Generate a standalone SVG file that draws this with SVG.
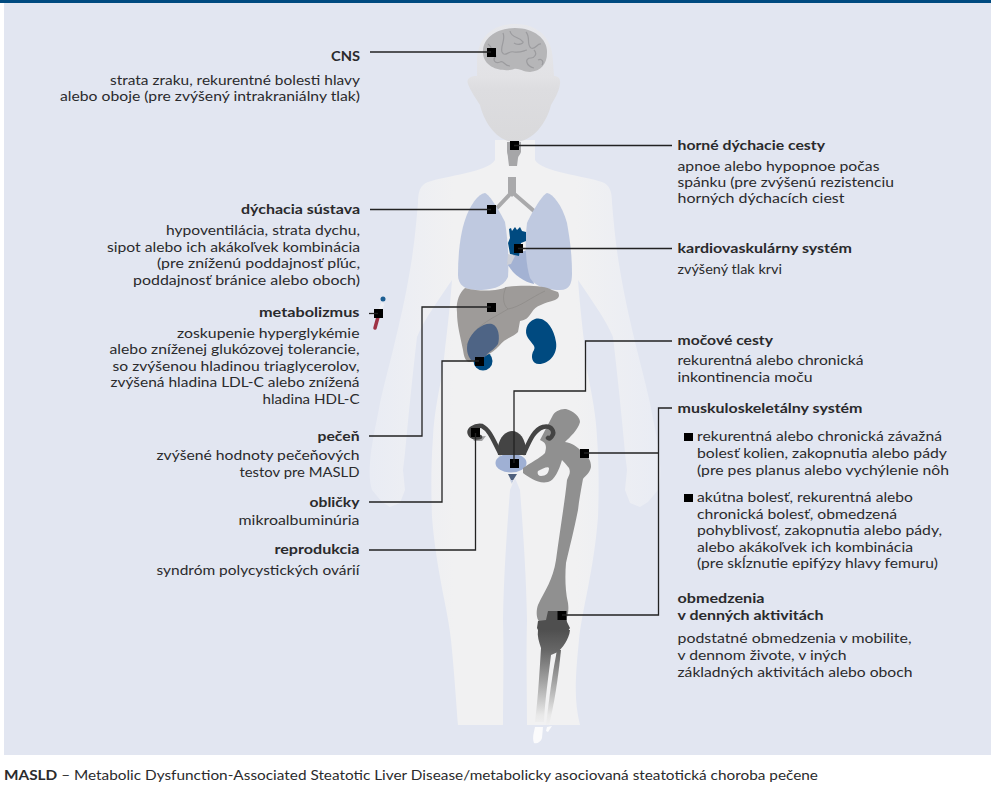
<svg xmlns="http://www.w3.org/2000/svg" width="991" height="800" viewBox="0 0 991 800">
<style>
text{font-family:"Lato","Noto Sans","Liberation Sans",sans-serif;font-size:13.8px;fill:#2a2a2c}
.b{font-weight:700}
.e{text-anchor:end}
.m{fill:#000}
.c{fill:none;stroke:#222;stroke-width:1.3}
.w{fill:none;stroke:#9b9b9e;stroke-width:1.2}
</style>
<defs>
<linearGradient id="skin" gradientUnits="userSpaceOnUse" x1="370" y1="0" x2="660" y2="0"><stop offset="0" stop-color="#e9ecf4"/><stop offset=".29" stop-color="#f1f1f2"/><stop offset=".71" stop-color="#f1f1f2"/><stop offset="1" stop-color="#e9ecf4"/></linearGradient>
<linearGradient id="head" x1="0" y1="0" x2="0" y2="1"><stop offset="0" stop-color="#e7e8ec"/><stop offset=".45" stop-color="#e2e2e5"/><stop offset=".55" stop-color="#dddde0"/><stop offset="1" stop-color="#d9d9db"/></linearGradient>
<linearGradient id="shin" gradientUnits="userSpaceOnUse" x1="0" y1="625" x2="0" y2="725"><stop offset="0" stop-color="#4a4a4a"/><stop offset=".25" stop-color="#666"/><stop offset=".55" stop-color="#a0a0a0"/><stop offset=".9" stop-color="#e8e8e8"/><stop offset="1" stop-color="#f0f0f1"/></linearGradient>
</defs>
<rect width="991" height="800" fill="#fff"/>
<rect x="4" y="3" width="987" height="752" fill="#e2e6f1"/>
<rect width="991" height="3" fill="#004a80"/>
<g id="body">
<path fill="url(#skin)" d="M495,140 L495,160 C488,172 445,176 428,182 C420,185 418,192 418,203 C416,225 414,248 410,270 C405,300 399,325 393,350 C388,370 384,385 380,403 C376,425 371,445 370,463 C369,475 370,484 372,490 L382,502 L390,507 L400,503 L405,490 L403,470 L405,453 C408,420 412,380 417,337 C425,318 440,298 452,280 C449,320 445,345 443,370 C438,395 434,415 433,437 C431,465 431,490 432,517 C436,570 448,610 451,640 C455,680 456,700 458,725 L503,725 C503,690 504,660 503,620 C504,570 507,530 510,490 L515,478 L520,490 C523,530 526,570 527,620 C526,660 527,690 527,725 L580,725 C574,700 575,680 579,640 C582,610 594,570 598,517 C599,490 599,465 597,437 C596,415 592,395 587,370 C585,345 581,320 578,280 C590,298 605,318 613,337 C618,380 622,420 625,453 L627,470 L625,490 L630,503 L640,507 L648,502 L658,490 C660,484 661,475 660,463 C659,445 654,425 650,403 C646,385 642,370 637,350 C631,325 625,300 620,270 C616,248 614,225 612,203 C612,192 610,185 602,182 C585,176 542,172 535,160 L535,140 Z"/>
</g>
<g id="head-shape">
<path fill="url(#head)" d="M515,24 C490,24 477,40 477,62 L477,76 C470,76 466,79 468,84 C471,92 477,100 480,105 C484,122 497,142 515,142 C533,142 547,122 551,105 C554,100 559,92 560,84 C561,79 558,76 554,76 L553,62 C553,40 540,24 515,24 Z"/>
</g>
<g id="cns">
<path fill="#b6b6b8" d="M483,53 C482,38 497,28 515,28 C535,28 548,40 547,53 C547,64 541,71 530,72 C523,72 519,68 514,69 C506,72 484,70 483,53 Z"/>
<path class="w" d="M503,33 C506,40 500,46 502,52 C505,58 509,50 514,52 C520,53 523,51 527,50 M510,31 C511,38 520,37 522,41 C526,43 518,46 514,43 M526,32 C531,38 526,44 531,48 C536,50 537,43 541,44 M534,50 C538,54 534,58 531,58 C524,58 526,66 534,68 M488,44 C494,48 490,52 496,56 C492,60 495,64 500,62 C504,60 504,66 510,66 M538,60 C542,58 544,62 542,65"/>
<rect class="m" x="487" y="48" width="9" height="9"/>
<text class="b e" x="360" y="61" textLength="29" lengthAdjust="spacingAndGlyphs">CNS</text>
<text class="e" x="360" y="85" textLength="250" lengthAdjust="spacingAndGlyphs">strata zraku, rekurentné bolesti hlavy</text>
<text class="e" x="360" y="101" textLength="300" lengthAdjust="spacingAndGlyphs">alebo oboje (pre zvýšený intrakraniálny tlak)</text>
</g>
<g id="horne-dychacie-cesty">
<path fill="#a6a6a8" d="M507,142 L521,142 L521,152 C520,155 518,156 518,158 L517,166 L509,166 L508,158 C508,155 507,154 507,151 Z"/>
<rect class="m" x="510" y="141" width="9" height="9"/>
<text class="b" x="677.500" y="150" textLength="147.500" lengthAdjust="spacingAndGlyphs">horné dýchacie cesty</text>
<text x="677.500" y="171" textLength="202" lengthAdjust="spacingAndGlyphs">apnoe alebo hypopnoe počas</text>
<text x="677.500" y="187" textLength="216.500" lengthAdjust="spacingAndGlyphs">spánku (pre zvýšenú rezistenciu</text>
<text x="677.500" y="203" textLength="167" lengthAdjust="spacingAndGlyphs">horných dýchacích ciest</text>
</g>
<g id="dychacia-sustava">
<path fill="none" stroke="#a9a9ab" stroke-width="4" d="M512,192 L496,209 M512,192 L534,211"/>
<path fill="#a9a9ab" d="M508,177 L516,177 L516,193 L512,197 L508,193 Z"/>
<path fill="#bfc9e0" d="M485,193 C490,195 500,212 505,222 C508,240 509,262 508,277 C503,288 490,290 477,290 C465,290 458,285 458,275 C458,255 460,235 465,220 C470,205 478,194 485,193 Z"/>
<path fill="#a3b2d3" d="M507,263 L514,254 L527,250 L534,284 C524,282 512,274 507,263 Z"/>
<path fill="#cdd0d8" d="M508,254 L515,256 L511,264 L507,265 Z"/>
<path fill="#bfc9e0" d="M547,193 C542,195 532,212 527,223 C525,240 525,262 530,278 C536,288 550,290 560,290 C570,290 572,283 572,273 C572,255 570,240 567,223 C562,205 553,194 547,193 Z"/>
<rect class="m" x="487" y="205" width="9" height="9"/>
<text class="b e" x="360" y="214" textLength="119" lengthAdjust="spacingAndGlyphs">dýchacia sústava</text>
<text class="e" x="360" y="235" textLength="194" lengthAdjust="spacingAndGlyphs">hypoventilácia, strata dychu,</text>
<text class="e" x="360" y="252" textLength="253" lengthAdjust="spacingAndGlyphs">sipot alebo ich akákoľvek kombinácia</text>
<text class="e" x="360" y="268" textLength="203" lengthAdjust="spacingAndGlyphs">(pre zníženú poddajnosť pľúc,</text>
<text class="e" x="360" y="285" textLength="227" lengthAdjust="spacingAndGlyphs">poddajnosť bránice alebo oboch)</text>
</g>
<g id="kardiovaskularny-system">
<path fill="#004a80" d="M509,229 L511,228 L512,231 L515,227 L517,230 L520,227 L522,231 L526,232 L526,241 L521,243 L519,256 L510,254 L508,243 L510,238 Z"/>
<rect class="m" x="514" y="244" width="9" height="9"/>
<text class="b" x="677.500" y="253" textLength="174.500" lengthAdjust="spacingAndGlyphs">kardiovaskulárny systém</text>
<text x="677.500" y="274" textLength="104.500" lengthAdjust="spacingAndGlyphs">zvýšený tlak krvi</text>
</g>
<g id="metabolizmus">
<path fill="none" stroke="#eef0f5" stroke-width="3.500" d="M383,303 L378,315"/>
<path fill="none" stroke="#9e3245" stroke-width="3.500" stroke-linecap="round" d="M378,317 L375,328"/>
<circle cx="383" cy="299" r="2.500" fill="#1c5e93"/>
<rect class="m" x="374" y="309" width="9" height="9"/>
<text class="b e" x="359.500" y="317" textLength="100.500" lengthAdjust="spacingAndGlyphs">metabolizmus</text>
<text class="e" x="359.500" y="338" textLength="182.500" lengthAdjust="spacingAndGlyphs">zoskupenie hyperglykémie</text>
<text class="e" x="359.500" y="354" textLength="250" lengthAdjust="spacingAndGlyphs">alebo zníženej glukózovej tolerancie,</text>
<text class="e" x="359.500" y="370.500" textLength="247" lengthAdjust="spacingAndGlyphs">so zvýšenou hladinou triaglycerolov,</text>
<text class="e" x="359.500" y="387" textLength="249" lengthAdjust="spacingAndGlyphs">zvýšená hladina LDL-C alebo znížená</text>
<text class="e" x="359.500" y="403.500" textLength="97" lengthAdjust="spacingAndGlyphs">hladina HDL-C</text>
</g>
<g id="oblicky">
<circle cx="483" cy="361" r="9.500" fill="#004a80"/>
<path fill="#004a80" d="M535,319 C545,316 554,328 556,342 C558,354 549,364 539,364 C532,364 530,356 534,350 C536,346 532,344 528,338 C524,332 526,322 535,319 Z"/>
</g>
<g id="pecen">
<path fill="#9e9b99" d="M465,288 C480,292 500,291 506,287 C520,285 545,285 552,290 L558,292 C560,296 559,298 555,300 C545,303 535,306 532,312 C528,318 526,320 520,321 L518,332 C515,336 505,338 499,346 C492,354 482,358 470,362 C465,362 464,356 463,350 C460,335 457,325 457,312 C456,304 458,294 465,288 Z"/>
<path fill="none" stroke="#8c8987" stroke-width=".7" d="M506,287 C502,296 503,305 508,309 C520,307 530,298 545,291 M508,309 C490,320 475,325 467,345"/>
<path fill="#4e6485" d="M468,342 C472,330 485,322 492,324 C499,326 500,338 498,344 C494,350 488,352 486,356 L481,360 L471,360 C467,355 466,348 468,342 Z"/>
<rect class="m" x="487" y="303" width="9" height="9"/>
<rect class="m" x="475" y="357" width="9" height="9"/>
<text class="b e" x="359.500" y="441" textLength="42" lengthAdjust="spacingAndGlyphs">pečeň</text>
<text class="e" x="359.500" y="460" textLength="203" lengthAdjust="spacingAndGlyphs">zvýšené hodnoty pečeňových</text>
<text class="e" x="359.500" y="476.500" textLength="120" lengthAdjust="spacingAndGlyphs">testov pre MASLD</text>
<text class="b e" x="359.500" y="507" textLength="50" lengthAdjust="spacingAndGlyphs">obličky</text>
<text class="e" x="359.500" y="525" textLength="121" lengthAdjust="spacingAndGlyphs">mikroalbuminúria</text>
</g>
<g id="mocove-cesty">
<ellipse cx="511" cy="463" rx="15.500" ry="9.500" fill="#9fb0d4"/>
<path fill="#4e5f7c" d="M508,474 L517,474 L512,482 Z"/>
<path fill="#c5cfe4" d="M510,480 L513,480 L512,484 Z"/>
<text class="b" x="677.500" y="345" textLength="95.500" lengthAdjust="spacingAndGlyphs">močové cesty</text>
<text x="677.500" y="365" textLength="186" lengthAdjust="spacingAndGlyphs">rekurentná alebo chronická</text>
<text x="677.500" y="381.500" textLength="135" lengthAdjust="spacingAndGlyphs">inkontinencia moču</text>
</g>
<g id="muskuloskeletalny-system">
<path fill="#909090" fill-rule="evenodd" d="M553,415 C556,410 562,409 566,409 C574,411 580,417 580,422 C578,430 570,437 565,442 C572,443 578,447 582,452 C588,456 591,460 591,467 C590,473 585,476 583,479 C581,490 579,500 578,510 C574,530 569,550 566,563 C565,575 565,590 568,603 C569,610 568,615 566,620 L540,622 C536,620 536,610 538,605 C545,590 553,580 556,560 C560,530 565,500 567,480 C569,475 571,473 569,468 C565,463 563,461 562,460 C559,470 555,480 548,482 C538,484 530,478 523,473 L523,468 C530,463 540,458 545,453 C547,445 546,443 540,440 L553,415 Z M538,471 C542,469 548,466 549,468 C549,473 546,476 541,476 C538,476 537,473 538,471 Z"/>
<path fill="#4f4f4f" d="M548,611 L565,611 L567,622 L570,628 L566,634 L540,634 L537,628 L538,621 L546,620 Z"/>
<path fill="url(#shin)" d="M538,630 L570,630 C569,640 562,648 558,652 L551,655 C548,680 545,700 544,722 L535,722 C538,700 540,665 541,648 C539,642 537,636 538,630 Z"/>
<path fill="url(#shin)" d="M557,650 L561,650 C558,680 554,705 549,725 L546,725 C549,700 552,675 557,650 Z"/>
<path fill="#fbfbfc" d="M535,727 L543,727 L542,738 C541,742 537,744 534,743 C532,738 534,732 535,727 Z"/>
<path fill="#fbfbfc" d="M547,727 L552,726 L548,732 L546,731 Z"/>
<rect class="m" x="580" y="449" width="9" height="9"/>
<rect class="m" x="557.500" y="611" width="9" height="9"/>
<text class="b" x="677.500" y="413" textLength="185" lengthAdjust="spacingAndGlyphs">muskuloskeletálny systém</text>
<rect class="m" x="684" y="433" width="9" height="8"/>
<text x="697" y="441" textLength="245" lengthAdjust="spacingAndGlyphs">rekurentná alebo chronická závažná</text>
<text x="697" y="458" textLength="250" lengthAdjust="spacingAndGlyphs">bolesť kolien, zakopnutia alebo pády</text>
<text x="697" y="474.500" textLength="252" lengthAdjust="spacingAndGlyphs">(pre pes planus alebo vychýlenie nôh</text>
<rect class="m" x="684" y="494" width="9" height="8"/>
<text x="697" y="502" textLength="216" lengthAdjust="spacingAndGlyphs">akútna bolesť, rekurentná alebo</text>
<text x="697" y="518.500" textLength="200" lengthAdjust="spacingAndGlyphs">chronická bolesť, obmedzená</text>
<text x="697" y="535" textLength="245" lengthAdjust="spacingAndGlyphs">pohyblivosť, zakopnutia alebo pády,</text>
<text x="697" y="551.500" textLength="216" lengthAdjust="spacingAndGlyphs">alebo akákoľvek ich kombinácia</text>
<text x="697" y="568" textLength="241" lengthAdjust="spacingAndGlyphs">(pre skĺznutie epifýzy hlavy femuru)</text>
<text class="b" x="677.500" y="603" textLength="87" lengthAdjust="spacingAndGlyphs">obmedzenia</text>
<text class="b" x="677.500" y="620" textLength="146" lengthAdjust="spacingAndGlyphs">v denných aktivitách</text>
<text x="677.500" y="643" textLength="234" lengthAdjust="spacingAndGlyphs">podstatné obmedzenia v mobilite,</text>
<text x="677.500" y="660" textLength="169" lengthAdjust="spacingAndGlyphs">v dennom živote, v iných</text>
<text x="677.500" y="676.500" textLength="235" lengthAdjust="spacingAndGlyphs">základných aktivitách alebo oboch</text>
</g>
<g id="reprodukcia">
<path fill="#a0a0a2" d="M472,437 L486,436 L482,441 L474,441 Z"/>
<path fill="#444" d="M498,455 C496,440 505,431 512,431 C520,431 527,440 526,455 Z"/>
<path fill="none" stroke="#444" stroke-width="4.500" stroke-linecap="round" d="M500,453 C494,442 490,430 482,426 C474,425 468,430 470,434 C472,438 478,438 480,437 M524,453 C530,440 534,430 543,427 C552,425 555,432 552,436 C551,438 549,439 548,438"/>
<rect class="m" x="471" y="428" width="9" height="9"/>
<rect class="m" x="510" y="459" width="9" height="9"/>
<text class="b e" x="359.500" y="554" textLength="85" lengthAdjust="spacingAndGlyphs">reprodukcia</text>
<text class="e" x="359.500" y="575" textLength="203" lengthAdjust="spacingAndGlyphs">syndróm polycystických ovárií</text>
</g>
<g id="connectors">
<path class="c" d="M370,52 H491"/>
<path class="c" d="M514,145.500 H672"/>
<path class="c" d="M370,209.500 H491"/>
<path class="c" d="M518,248.500 H672"/>
<path class="c" d="M369,313.500 H378"/>
<path class="c" d="M369,436 H422 V307 H491"/>
<path class="c" d="M369,502 H442 V361 H479"/>
<path class="c" d="M369,550 H475.500 V433"/>
<path class="c" d="M672,341 H585.500 V391 H514 V463"/>
<path class="c" d="M672,408 H658.500 V615 H562"/>
<path class="c" d="M658.500,453 H584"/>
</g>
<g id="footnote">
<text x="4" y="780" textLength="814" lengthAdjust="spacingAndGlyphs"><tspan class="b">MASLD</tspan> – Metabolic Dysfunction-Associated Steatotic Liver Disease/metabolicky asociovaná steatotická choroba pečene</text>
</g>
</svg>
